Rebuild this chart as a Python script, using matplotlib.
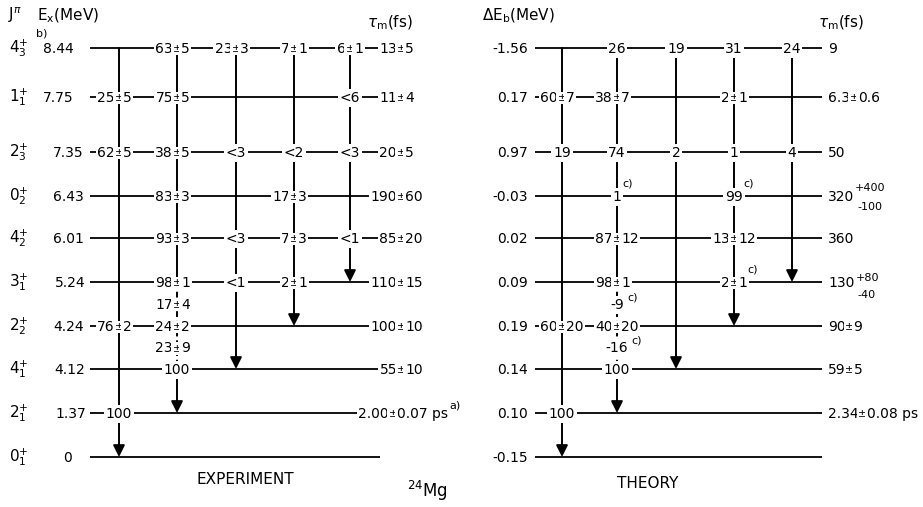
import matplotlib
matplotlib.use("Agg")
import matplotlib.pyplot as plt

# levels of 24Mg, top to bottom
spin = [4, 1, 2, 0, 4, 3, 2, 4, 2, 0]
spin_n = [3, 1, 3, 2, 2, 1, 2, 1, 1, 1]
ex_mev = ["8.44", "7.75", "7.35", "6.43", "6.01", "5.24", "4.24", "4.12", "1.37", "0"]
tau_exp = ["13±5", "11±4", "20±5", "190±60", "85±20", "110±15", "100±10", "55±10",
           "2.00±0.07 ps", ""]
de_b = ["-1.56", "0.17", "0.97", "-0.03", "0.02", "0.09", "0.19", "0.14", "0.10", "-0.15"]
tau_th = ["9", "6.3±0.6", "50", "320", "360", "130", "90±9", "59±5", "2.34±0.08 ps", ""]
tau_th_err = {3: ("+400", "-100"), 5: ("+80", "-40")}

# each column is a gamma line feeding one final level (row index)
final_level = [9, 8, 7, 6, 5]

# branching ratios per level, one entry per column
branch_exp = [
    [None, "63±5", "23±3", "7±1", "6±1"],
    ["25±5", "75±5", None, None, "<6"],
    ["62±5", "38±5", "<3", "<2", "<3"],
    [None, "83±3", None, "17±3", None],
    [None, "93±3", "<3", "7±3", "<1"],
    [None, "98±1", "<1", "2±1", None],
    ["76±2", "24±2", None, None, None],
    [None, "100", None, None, None],
    ["100", None, None, None, None],
    [None, None, None, None, None],
]
branch_th = [
    [None, "26", "19", "31", "24"],
    ["60±7", "38±7", None, "2±1", None],
    ["19", "74", "2", "1", "4"],
    [None, "1", None, "99", None],
    [None, "87±12", None, "13±12", None],
    [None, "98±1", None, "2±1", None],
    ["60±20", "40±20", None, None, None],
    [None, "100", None, None, None],
    ["100", None, None, None, None],
    [None, None, None, None, None],
]
notes_c = [(3, 1), (3, 3), (5, 3)]
# values written on the dashed part of column 2, between rows 5-6 and 6-7
mid_exp = ["17±4", "23±9"]
mid_th = ["-9", "-16"]

# layout (pixels)
row_y = [48, 97, 152, 196, 238, 282, 326, 369, 413, 457]
col_exp = [119, 177, 236, 294, 350]
col_th = [562, 617, 676, 734, 792]
ex_x = [43, 43, 53, 53, 53, 55, 53, 54, 55, 63]
tau_exp_x = [401] * 8 + [393, 401]
end_exp = [401] * 8 + [393, 380]
end_th = [822] * 10

FS = 10
BOX = dict(boxstyle="square,pad=0.12", fc="white", ec="none")

fig = plt.figure(figsize=(9.23, 5.07), dpi=100)
ax = fig.add_axes([0, 0, 1, 1])
ax.set_xlim(0, 923)
ax.set_ylim(507, 0)
ax.axis("off")
renderer = fig.canvas.get_renderer()


def txt(x, y, s, ha="center", size=FS, box=True, dy=5):
    return ax.text(x, y + dy, s, ha=ha, va="baseline", size=size,
                   bbox=BOX if box else None, zorder=3)


def right_edge(t):
    return t.get_window_extent(renderer=renderer).x1


def label(x, y, s):
    # the ± sits on the gamma line
    if "±" in s:
        a, b = s.split("±")
        txt(x - 4, y, a, ha="right")
        txt(x, y, "±", size=FS * 0.75, dy=4)
        t = txt(x + 4, y, b, ha="left")
    else:
        t = txt(x, y, s)
    return right_edge(t)


def label_left(x, y, s):
    if "±" in s:
        a, b = s.split("±")
        t = txt(x, y, a, ha="left")
        xe = right_edge(t)
        txt(xe + 4, y, "±", size=FS * 0.75, dy=4)
        t = txt(xe + 8, y, b, ha="left")
    else:
        t = txt(x, y, s, ha="left")
    return right_edge(t)


def gamma(x, y0, y1):
    ax.annotate("", xy=(x, y1), xytext=(x, y0), zorder=1,
                arrowprops=dict(arrowstyle="-|>,head_length=0.5,head_width=0.25",
                                mutation_scale=14, lw=1.4, color="k",
                                shrinkA=0, shrinkB=0))


def panel(cols, x0, ends, branches, mids):
    for i, y in enumerate(row_y):
        ax.plot([x0, ends[i]], [y, y], color="k", lw=1.3, zorder=1,
                solid_capstyle="butt")
    for c, (x, f) in enumerate(zip(cols, final_level)):
        if c == 1:
            ax.plot([x, x], [row_y[0], row_y[5]], color="k", lw=1.4, zorder=1)
            ax.plot([x, x], [row_y[5], row_y[7]], color="k", lw=1.4, zorder=1,
                    ls=(0, (3, 2)))
            gamma(x, row_y[7], row_y[f])
        else:
            gamma(x, row_y[0], row_y[f])
    edges = {}
    for i, row in enumerate(branches):
        for c, s in enumerate(row):
            if s:
                edges[(i, c)] = label(cols[c], row_y[i], s)
    mid_edges = []
    for k, s in enumerate(mids):
        ym = (row_y[5 + k] + row_y[6 + k]) / 2
        mid_edges.append((label(cols[1], ym, s), ym))
    return edges, mid_edges


# experiment
panel(col_exp, 90, end_exp, branch_exp, mid_exp)
for i, y in enumerate(row_y):
    ax.text(19, y, f"${spin[i]}^{{+}}_{{{spin_n[i]}}}$", ha="center", va="center",
            size=FS + 1)
    txt(ex_x[i], y, ex_mev[i], ha="left", box=False)
    if tau_exp[i]:
        xe = label(tau_exp_x[i], y, tau_exp[i])
        if tau_exp[i].endswith("ps"):
            ax.text(xe + 1, y - 4, "a)", size=8, va="baseline", zorder=3)
ax.text(36, 36, "b)", size=8, va="baseline")

# theory
edges, mid_edges = panel(col_th, 535, end_th, branch_th, mid_th)
for i, y in enumerate(row_y):
    txt(528, y, de_b[i], ha="right", box=False)
    if tau_th[i]:
        xe = label_left(828, y, tau_th[i])
        if i in tau_th_err:
            up, lo = tau_th_err[i]
            ax.text(xe + 1, y - (5 if i == 3 else 1), up, size=8, va="baseline")
            ax.text(xe + 3, y + (14 if i == 3 else 16), lo, size=8, va="baseline")
for (i, c) in notes_c:
    ax.text(edges[(i, c)] + 1, row_y[i] - 9, "c)", size=8, va="baseline", zorder=3)
for xe, ym in mid_edges:
    ax.text(xe + 3, ym - 4, "c)", size=8, va="baseline", zorder=3)

# headers and captions
ax.text(8, 20, r"J$^{\pi}$", size=FS + 1, va="baseline")
ax.text(37, 20, r"E$_{\rm x}$(MeV)", size=FS + 1, va="baseline")
ax.text(367, 27, r"$\tau_{\rm m}$(fs)", size=FS + 1, va="baseline")
ax.text(482, 20, r"$\Delta$E$_{\rm b}$(MeV)", size=FS + 1, va="baseline")
ax.text(818, 27, r"$\tau_{\rm m}$(fs)", size=FS + 1, va="baseline")
ax.text(245, 484, "EXPERIMENT", size=11, ha="center", va="baseline")
ax.text(648, 488, "THEORY", size=11, ha="center", va="baseline")
ax.text(407, 497, r"$^{24}$Mg", size=12, ha="left", va="baseline")

fig.savefig("out.png", dpi=100, facecolor="white")
